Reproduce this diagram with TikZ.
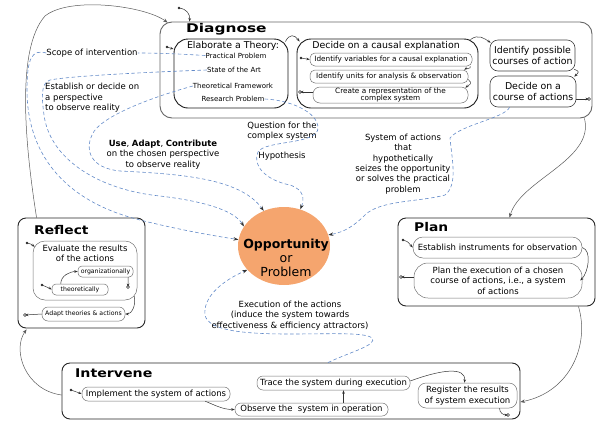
\documentclass[tikz,border=0pt]{standalone}
\usepackage{fontspec}
\usepackage{graphicx}
\setmainfont{DejaVu Sans}
\usetikzlibrary{arrows.meta,shapes.geometric,calc}
\definecolor{dashblue}{RGB}{98,138,200}
\definecolor{oppfill}{RGB}{245,165,110}
\newcommand{\fsN}{\fontsize{8.5}{10.4}\selectfont}
\newcommand{\fsH}{\fontsize{9.4}{10.6}\selectfont}
\newcommand{\fsE}{\fontsize{7}{8}\selectfont}
\newcommand{\fsC}{\fontsize{7.3}{7.6}\selectfont}
\newcommand{\fsR}{\fontsize{6.2}{7}\selectfont}
\newcommand{\ttl}[2]{\fontsize{12}{14}\selectfont\bfseries\scalebox{#1}[1]{#2}}
\begin{document}
\begin{tikzpicture}[x=1pt,y=-1pt,
  bigbox/.style={draw=black!85, line width=0.9pt, rounded corners=8pt, inner sep=0pt},
  mainbox/.style={draw=black!90, line width=0.9pt, rounded corners=14pt, inner sep=0pt},
  subbox/.style={draw=black!55, line width=0.5pt, rounded corners=5pt, inner sep=0pt},
  sel/.style={draw=black!75, line width=0.6pt, rounded corners=8pt, inner sep=0pt, align=center},
  txt/.style={inner sep=0pt, align=center},
  conn/.style={draw=black!65, line width=0.5pt, -{Stealth[length=4.5pt,width=3.5pt]}},
  sarr/.style={draw=black!80, line width=0.5pt, -{Stealth[length=3.5pt,width=2.6pt]}},
  dashc/.style={draw=dashblue, line width=0.6pt, dash pattern=on 3.5pt off 2.5pt, -{Stealth[length=5pt,width=3.5pt,color=black!80]}},
  dashn/.style={draw=dashblue, line width=0.6pt, dash pattern=on 3.5pt off 2.5pt},
  startm/.style={fill=black!85},
]
\useasboundingbox (0,0) rectangle (597,421);

% ---------------- Diagnose ----------------
\node[bigbox, draw=black!60, rounded corners=12pt, minimum width=432pt, minimum height=96pt] (diag) at (376,70) {};
\node[txt, anchor=west] (diagT) at (186,29.5) {\ttl{1.28}{Diagnose}};

\node[mainbox, minimum width=114pt, minimum height=69pt] (elab) at (231,73.5) {};
\node[txt, font=\fsH] (elabT) at (233,46) {Elaborate a Theory:};
\node[txt, font=\fsE] (pp) at (236,55.5) {Practical Problem};
\node[txt, font=\fsE] (sa) at (234,70) {State of the Art};
\node[txt, font=\fsE] (tf) at (233,86) {Theoretical Framework};
\node[txt, font=\fsE] (rp) at (233,99) {Research Problem};

\node[mainbox, minimum width=181pt, minimum height=69pt] (caus) at (387.5,73.5) {};
\node[txt, font=\fsH] (causT) at (386,46) {Decide on a causal explanation};
\node[subbox, minimum width=162pt, minimum height=13pt, font=\fsC] (v1) at (391,59.5) {Identify variables for a causal explanation};
\node[subbox, minimum width=158pt, minimum height=13pt, font=\fsC] (v2) at (389,76.5) {Identify units for analysis \& observation};
\node[subbox, minimum width=155pt, minimum height=16pt, font=\fsC, align=center, rounded corners=7pt] (v3) at (390.5,95) {Create a representation of the\\complex system};

\node[sel, minimum width=85pt, minimum height=31pt, font=\fsH] (ident) at (532.5,55.5) {Identify possible\\courses of action};
\node[sel, minimum width=86pt, minimum height=31pt, font=\fsH] (decide) at (533,91.5) {Decide on a\\course of actions};

% ---------------- Opportunity ----------------
\node[ellipse, fill=oppfill, minimum width=92pt, minimum height=78pt, inner sep=0pt] (opp) at (284,246) {};
\node[txt, font=\fontsize{12.5}{14}\selectfont] (oppT) at (286,258) {\textbf{Opportunity}\\or\\Problem};

% ---------------- Reflect ----------------
\node[bigbox, minimum width=127pt, minimum height=110pt] (refl) at (81.5,273) {};
\node[txt, anchor=west] (reflT) at (34,230) {\ttl{1.15}{Reflect}};
\node[subbox, rounded corners=12pt, minimum width=104pt, minimum height=59pt] (eval) at (85,270.5) {};
\node[txt, font=\fsN] (evalT) at (85,253.5) {Evaluate the results\\of the actions};
\node[subbox, rounded corners=4pt, minimum width=55pt, minimum height=11pt, font=\fsR] (org) at (105.5,271.5) {organizationally};
\node[subbox, rounded corners=4pt, minimum width=56pt, minimum height=11pt, font=\fsR] (theo) at (80,289.5) {theoretically};
\node[subbox, rounded corners=6pt, minimum width=83pt, minimum height=14pt, font=\fsR] (adapt) at (83.5,314) {Adapt theories \& actions};

% ---------------- Plan ----------------
\node[bigbox, minimum width=197pt, minimum height=88pt] (plan) at (496.5,262) {};
\node[txt, anchor=west] (planT) at (414,227) {\ttl{1.15}{Plan}};
\node[subbox, rounded corners=10pt, minimum width=169pt, minimum height=21pt, font=\fsN] (estab) at (497.5,247.5) {Establish instruments for observation};
\node[subbox, rounded corners=14pt, minimum width=168pt, minimum height=35pt, font=\fsN, align=center] (plexec) at (498,280.5) {Plan the execution of a chosen\\course of actions, i.e., a system\\of actions};

% ---------------- Intervene ----------------
\node[bigbox, minimum width=458pt, minimum height=56pt] (interv) at (291,391) {};
\node[txt, anchor=west] (intervT) at (75,373) {\ttl{1.18}{Intervene}};
\node[subbox, rounded corners=6pt, minimum width=148pt, minimum height=14pt, font=\fsN] (impl) at (156,394) {Implement the system of actions};
\node[subbox, rounded corners=6pt, minimum width=153pt, minimum height=13pt, font=\fsN] (obs) at (311.5,409.5) {Observe the\ \ system in operation};
\node[subbox, rounded corners=6pt, minimum width=153pt, minimum height=14pt, font=\fsN] (trace) at (333.5,383) {Trace the system during execution};
\node[subbox, rounded corners=8pt, minimum width=99pt, minimum height=25pt, font=\fsN, align=center] (reg) at (467.5,395.5) {Register the results\\of system execution};

% ---------------- free labels ----------------
\node[txt, font=\fsN] (scope) at (92,53) {Scope of intervention};
\node[txt, font=\fsN, align=left, anchor=west] (persp) at (45,98) {Establish or decide on\\a perspective\\to observe reality};
\node[txt, font=\fsN] (useT) at (163,154.5) {\textbf{Use}, \textbf{Adapt}, \textbf{Contribute}\\on the chosen perspective\\to observe reality};
\node[txt, font=\fsN] (quest) at (282,131) {Question for the\\complex system};
\node[txt, font=\fsN] (hyp) at (282,156) {Hypothesis};
\node[txt, font=\fsN] (sysT) at (403,164) {System of actions\\that\\hypothetically\\seizes the opportunity\\or solves the practical\\problem};
\node[txt, font=\fsN] (execT) at (290,315.5) {Execution of the actions\\(induce the system towards\\effectiveness \& efficiency attractors)};

% ---------------- cycle connectors ----------------
\draw[conn] ($(refl.north west)+(19,0)$) .. controls (26,150) and (15,50) .. (45,16)
  .. controls (70,-4) and (145,6) .. ($(diag.north west)+(8,1)$);
\draw[conn] ($(diag.south east)+(-8,0)$) .. controls (595,160) and (520,180) .. ($(plan.north west)+(112,0)$);
\draw[conn] ($(plan.south east)+(-17,0)$) .. controls (590,345) and (570,392) .. ($(interv.east)+(0,11)$);
\draw[conn] ($(interv.west)+(0,4)$) .. controls (25,390) and (12,350) .. ($(refl.south west)+(9,1)$);

% ---------------- dashed connectors ----------------
\draw[dashn] (pp.west) .. controls (180,54) and (160,53) .. (scope.east);
\draw[dashc] (scope.west) .. controls (32,49) and (27,58) .. (27,90)
  .. controls (27,150) and (60,200) .. (140,220) .. controls (180,230) and (215,236) .. (opp.172);
\draw[dashc] (sa.west) .. controls (150,72) and (70,76) .. (50,80)
  .. controls (40,83) and (42,100) .. (44,115) .. controls (50,160) and (100,190) .. (160,196)
  .. controls (210,202) and (235,212) .. (opp.154);
\draw[dashc] (tf.west) .. controls (160,95) and (100,115) .. (92,135)
  .. controls (85,150) and (90,168) .. (120,171) .. controls (180,174) and (240,178) .. (opp.120);
\draw[dashc] (rp.east) .. controls (290,100) and (318,112) .. (318,128)
  .. controls (318,145) and (265,140) .. (258,152) .. controls (252,165) and (265,180) .. (290,185)
  .. controls (305,190) and (304,200) .. (opp.66);
\draw[dashc] (decide.214) .. controls (505,118) and (460,125) .. (450,138)
  .. controls (452,160) and (458,185) .. (445,195) .. controls (420,202) and (380,200) .. (365,215)
  .. controls (355,225) and (345,232) .. (opp.14);
\draw[dashc] ($(interv.north)+(37,0)$) .. controls (350,352) and (378,345) .. (372,338)
  .. controls (365,332) and (330,334) .. (290,334) .. controls (240,334) and (208,330) .. (205,315)
  .. controls (203,298) and (220,282) .. (opp.213);

% ---------------- small arrows: Diagnose ----------------
\coordinate (s1) at (179,8);
\fill[startm] (s1) circle (1.4pt);
\draw[sarr] (s1) .. controls (187,9) and (190,14) .. ($(diag.north west)+(30,0)$);
\coordinate (s2) at (167,47);
\fill[startm] (s2) circle (1.4pt);
\draw[sarr] (s2) .. controls (170,48) .. (elab.157);
\draw[sarr] ($(elab.north east)+(-3,3)$) .. controls +(4,-8) and +(-5,-7) .. ($(caus.north west)+(3,3)$);
\coordinate (s3) at (301,58);
\fill[startm] (s3) circle (1.3pt);
\draw[sarr] (s3) -- (v1.west);
\draw[sarr] ($(v1.south east)+(-2,0)$) .. controls +(1,3) and +(3,-2) .. ($(v2.north east)+(-4,0)$);
\draw[sarr] ($(v2.east)+(0,3)$) .. controls +(5,4) and +(4,-3) .. ($(v3.north east)+(-3,1)$);
\coordinate (e1) at (300,92);
\draw[sarr] ($(v3.west)+(0,-3)$) -- (e1);
\draw[black!80, line width=0.4pt] (e1) circle (1.5pt);
\draw[sarr] ($(caus.north east)+(-8,1)$) .. controls +(8,-6) and +(-6,-4) .. ($(ident.north west)+(1,3)$);
\draw[sarr] ($(ident.south east)+(-1,-2)$) .. controls +(6,2) and +(4,-4) .. ($(decide.north east)+(-2,1)$);
\coordinate (e2) at (589,99);
\draw[sarr] ($(decide.east)+(0,7.5)$) -- (e2);
\draw[black!80, line width=0.4pt] (e2) circle (1.5pt);

% ---------------- small arrows: Reflect ----------------
\coordinate (s4) at (27,243);
\fill[startm] (s4) circle (1.4pt);
\draw[sarr] (s4) .. controls (31,244) .. ($(eval.north west)+(2,6)$);
\coordinate (s5) at (42,285);
\fill[startm] (s5) circle (1.4pt);
\draw[sarr] (s5) .. controls (46,286) .. (theo.west);
\draw[sarr] ($(theo.north west)+(9,0)$) .. controls +(0,-8) and +(-8,0) .. (org.west);
\coordinate (e3) at (128,287);
\draw[sarr] ($(org.south east)+(-5,0)$) -- (e3);
\draw[black!80, line width=0.4pt] (e3) circle (1.5pt);
\draw[sarr] ($(eval.south east)+(-3,-4)$) .. controls +(2,10) and +(6,0) .. (adapt.east);
\coordinate (e4) at (25,315);
\draw[sarr] (adapt.west) -- (e4);
\draw[black!80, line width=0.4pt] (e4) circle (1.5pt);

% ---------------- small arrows: Plan ----------------
\coordinate (s6) at (403,240);
\fill[startm] (s6) circle (1.4pt);
\draw[sarr] (s6) .. controls (407,241) .. (estab.west);
\draw[sarr] (estab.east) .. controls +(10,3) and +(8,-8) .. ($(plexec.east)+(-2,0)$);
\coordinate (e5) at (401,277);
\draw[sarr] ($(plexec.west)+(0,-3.5)$) -- (e5);
\draw[black!80, line width=0.4pt] (e5) circle (1.5pt);

% ---------------- small arrows: Intervene ----------------
\coordinate (s7) at (71,390);
\fill[startm] (s7) circle (1.4pt);
\draw[sarr] (s7) .. controls (75,391) .. (impl.west);
\draw[sarr] ($(impl.south east)+(-25,0)$) .. controls +(10,4) and +(-12,0) .. (obs.west);
\draw[sarr] ($(obs.north)+(32,0)$) .. controls +(0,-4) and +(0,4) .. ($(trace.south)+(10,0)$);
\draw[sarr] ($(trace.east)+(0,-2)$) .. controls (440,370) and (466,366) .. ($(reg.north)+(-3,0)$);
\coordinate (e6) at (508,415);
\draw[sarr] ($(reg.south)+(32,0)$) .. controls +(0,5) and +(-4,0) .. (e6);
\draw[black!80, line width=0.4pt] (e6) circle (1.5pt);
\end{tikzpicture}
\end{document}
